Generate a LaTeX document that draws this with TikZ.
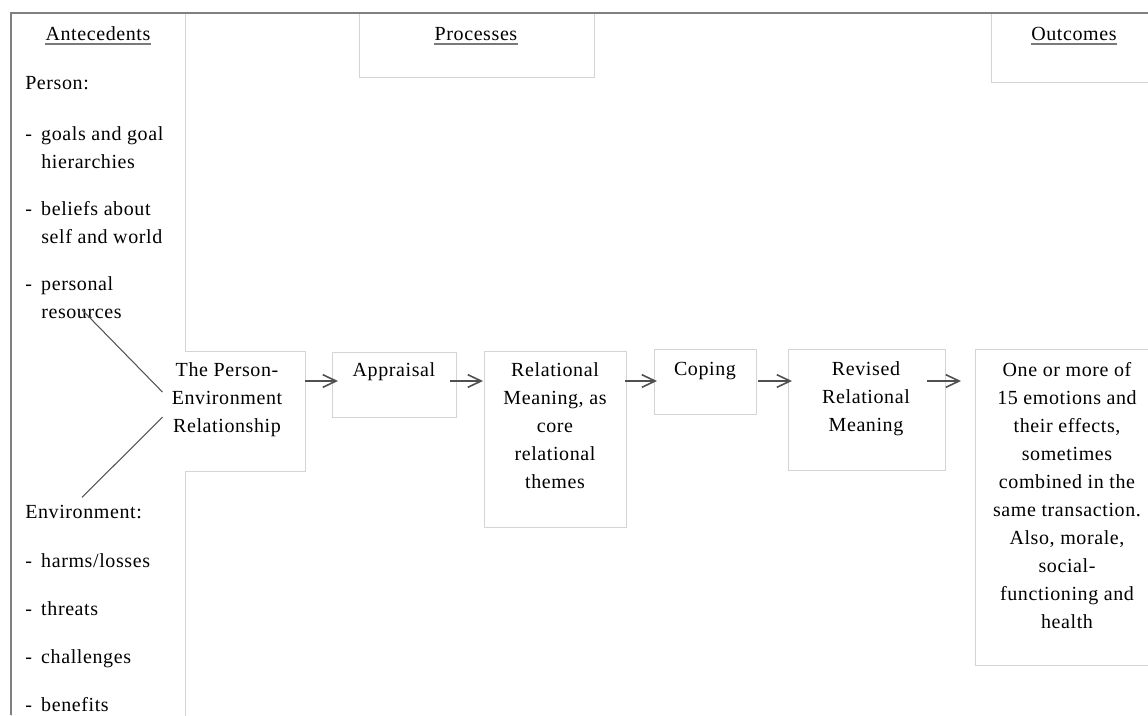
\documentclass[tikz,border=0pt]{standalone}
\usepackage{fontspec}
\setmainfont[LetterSpace=3]{Liberation Serif}
\usetikzlibrary{calc,fit,arrows.meta}
\definecolor{framegray}{HTML}{808080}
\definecolor{boxgray}{HTML}{D4D4D4}
\definecolor{linkgray}{HTML}{555555}
\definecolor{arrowgray}{HTML}{505050}
\definecolor{rulegray}{HTML}{7A7A7A}
\newcommand{\bodyfont}{\fontsize{15pt}{21pt}\selectfont}
% list entry with a hanging dash
\newcommand{\dashline}{\makebox[12pt][l]{-}}
\newcommand{\hang}{\hspace*{12pt}}
\begin{document}
\begin{tikzpicture}[x=0.75pt,y=-0.75pt,
  panel/.style={draw=boxgray, line width=0.75pt, fill=white, inner sep=0pt, outer sep=0pt},
  blank/.style={fill=white, inner sep=0pt, outer sep=0pt},
  txt/.style={font=\bodyfont, align=center, inner sep=0pt, anchor=north},
  ltxt/.style={font=\bodyfont, align=left, inner sep=0pt, anchor=north west},
  hdr/.style={font=\bodyfont, inner sep=0pt, anchor=base},
  uline/.style={draw=rulegray, line width=1.4pt},
  link/.style={draw=linkgray, line width=0.8pt},
  arr/.style={draw=arrowgray, line width=1.3pt, -{Straight Barb[length=10pt,width=9.5pt,line width=1.2pt]}},
  frame/.style={draw=framegray, line width=0.9pt}
]
\useasboundingbox[fill=white] (0,0) rectangle (1148,715);

% column panels and headers
\node[panel, fit={(11,13) (185,740)}] (ant) {};
\node[panel, fit={(359,13) (594,77)}] (proc) {};
\node[panel, fit={(991,13) (1170,82)}] (outc) {};

% outer frame
\draw[frame] (11,715) -- (11,13) -- (1148,13);

% header labels
\node[hdr] (hant) at (98,40) {Antecedents};
\node[hdr] (hproc) at (476,40) {Processes};
\node[hdr] (houtc) at (1074,40) {Outcomes};
\foreach \h in {hant,hproc,houtc}
  \draw[uline] ($(\h.base west)+(0,4)$) -- ($(\h.base east)+(0,4)$);

% antecedents: person
\node[ltxt] (person) at (25,69.4) {\strut Person:};
\node[ltxt] (goals) at (25,120.4) {\strut\dashline goals and goal\\\hang hierarchies};
\node[ltxt] (beliefs) at (25,195.4) {\strut\dashline beliefs about\\\hang self and world};
\node[ltxt] (pers) at (25,270.4) {\strut\dashline personal\\\hang resources};

% antecedents: environment
\node[ltxt] (env) at (25,498.4) {\strut Environment:};
\node[ltxt] (harms) at (25,547.4) {\strut\dashline harms/losses};
\node[ltxt] (threats) at (25,595.4) {\strut\dashline threats};
\node[ltxt] (chall) at (25,643.4) {\strut\dashline challenges};
\node[ltxt] (benef) at (25,691.4) {\strut\dashline benefits};

% person-environment relationship box (open on the left)
\node[blank, fit={(185,351) (305,471)}] (pe) {};
\draw[draw=boxgray, line width=0.75pt] (pe.north west) -- (pe.north east) -- (pe.south east) -- (pe.south west);
\node[txt] (pet) at (227,356.4) {\strut The Person-\\Environment\\Relationship};

% process boxes
\node[panel, fit={(332,352) (456,417)}] (app) {};
\node[panel, fit={(484,351) (626,527)}] (rel) {};
\node[panel, fit={(654,349) (756,414)}] (cop) {};
\node[panel, fit={(788,349) (945,470)}] (rev) {};
\node[panel, fit={(975,349) (1170,665)}] (res) {};

\node[txt] (appt) at (394,357) {\strut Appraisal};
\node[txt] (relt) at (555,356.4) {\strut Relational\\Meaning, as\\core\\relational\\themes};
\node[txt] (copt) at (705,356) {\strut Coping};
\node[txt] (revt) at (866,355.4) {\strut Revised\\Relational\\Meaning};
\node[txt] (rest) at (1067,356.4) {\strut One or more of\\15 emotions and\\their effects,\\sometimes\\combined in the\\same transaction.\\Also, morale,\\social-\\functioning and\\health};

% links from antecedents to the relationship
\draw[link] ($(pers.south west)+(57,-9)$) -- ($(pet.west)+(-9,-4.5)$);
\draw[link] ($(pet.west)+(-9,20.5)$) -- ($(env.north west)+(57,-1)$);

% process flow
\coordinate (ay) at (0,381);
\draw[arr] ($(pe.east |- ay)+(0,0)$) -- ($(app.west |- ay)+(6,0)$);
\draw[arr] ($(app.east |- ay)+(-6,0)$) -- ($(rel.west |- ay)+(-1,0)$);
\draw[arr] ($(rel.east |- ay)+(-1,0)$) -- ($(cop.west |- ay)+(3,0)$);
\draw[arr] ($(cop.east |- ay)+(2,0)$) -- ($(rev.west |- ay)+(4,0)$);
\draw[arr] ($(rev.east |- ay)+(-18,0)$) -- ($(res.west |- ay)+(-14,0)$);
\end{tikzpicture}
\end{document}
